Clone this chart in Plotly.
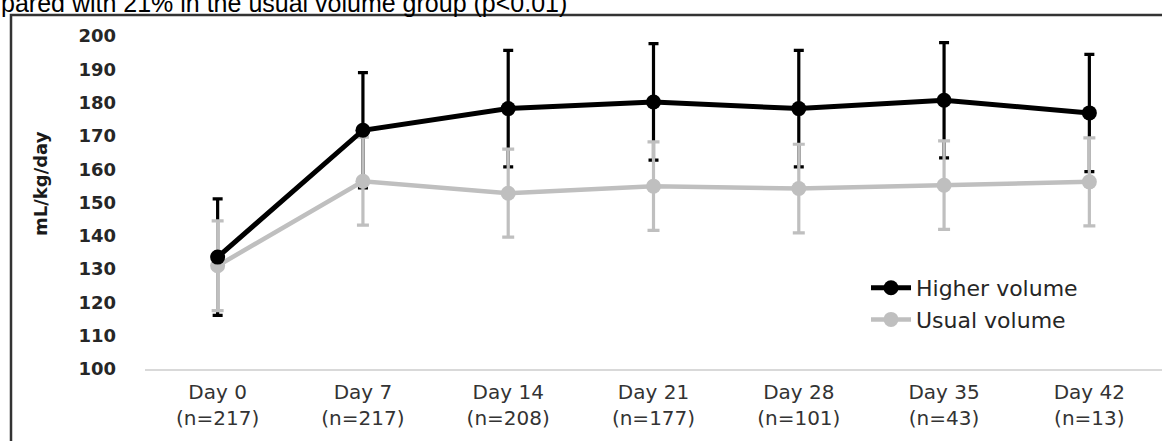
import plotly.graph_objects as go

# ---- data ----
days = ["Day 0", "Day 7", "Day 14", "Day 21", "Day 28", "Day 35", "Day 42"]
n_counts = [217, 217, 208, 177, 101, 43, 13]
higher_mean = [133.6, 171.7, 178.2, 180.2, 178.2, 180.7, 176.9]
higher_sd = [17.5, 17.3, 17.5, 17.5, 17.5, 17.3, 17.6]
usual_mean = [131.0, 156.4, 152.8, 154.9, 154.2, 155.2, 156.2]
usual_sd = [13.5, 13.2, 13.2, 13.3, 13.3, 13.3, 13.2]
y_ticks = [100, 110, 120, 130, 140, 150, 160, 170, 180, 190, 200]
caption = "pared with 21% in the usual volume group (p<0.01)"
y_title = "mL/kg/day"

categories = [f"{d}<br>(n={n})" for d, n in zip(days, n_counts)]

BLACK = "#000000"
GRAY = "#bfbfbf"

W, H = 1162, 441
ML, MR, MT, MB = 145, 0, 36, 72
PW, PH = W - ML - MR, H - MT - MB


def px_x(x):
    return (x - ML) / PW


def px_y(y):
    return (H - MB - y) / PH


fig = go.Figure()

# error bars (black first, gray over it)
fig.add_trace(go.Scatter(
    x=categories, y=higher_mean, mode="markers",
    marker=dict(size=1, opacity=0, color=BLACK),
    error_y=dict(type="data", array=higher_sd, color=BLACK, thickness=3.2, width=5),
    showlegend=False, hoverinfo="skip"))
fig.add_trace(go.Scatter(
    x=categories, y=usual_mean, mode="markers",
    marker=dict(size=1, opacity=0, color=GRAY),
    error_y=dict(type="data", array=usual_sd, color=GRAY, thickness=3.2, width=6),
    showlegend=False, hoverinfo="skip"))

# lines + markers
fig.add_trace(go.Scatter(
    x=categories, y=usual_mean, mode="lines+markers", name="Usual volume",
    line=dict(color=GRAY, width=4.5), marker=dict(color=GRAY, size=15),
    legendrank=2))
fig.add_trace(go.Scatter(
    x=categories, y=higher_mean, mode="lines+markers", name="Higher volume",
    line=dict(color=BLACK, width=5), marker=dict(color=BLACK, size=15),
    legendrank=1))

fig.update_layout(
    width=W, height=H,
    margin=dict(l=ML, r=MR, t=MT, b=MB, pad=0),
    paper_bgcolor="white", plot_bgcolor="white",
    showlegend=True,
    legend=dict(
        x=px_x(866), y=px_y(267), xanchor="left", yanchor="top",
        font=dict(family="DejaVu Sans", size=22, color="#262626"),
        bgcolor="rgba(0,0,0,0)", itemwidth=40, tracegroupgap=0),
    xaxis=dict(
        type="category", range=[-0.5, 6.5],
        showgrid=False, zeroline=False,
        showline=True, linecolor="#d9d9d9", linewidth=1.5,
        ticks="", ticklabelstandoff=4,
        tickfont=dict(family="DejaVu Sans", size=20, color="#333333")),
    yaxis=dict(
        range=[100, 200], tickvals=y_ticks,
        showgrid=False, zeroline=False, showline=False, ticks="",
        ticklabelstandoff=28,
        tickfont=dict(family="DejaVu Sans", size=18, color="#262626", weight="bold")),
    annotations=[
        dict(text=y_title, xref="paper", yref="paper", x=px_x(40), y=px_y(184),
             xanchor="center", yanchor="middle", textangle=-90, showarrow=False,
             font=dict(family="DejaVu Sans", size=18, color="#1a1a1a", weight="bold")),
        dict(text=caption, xref="paper", yref="paper", x=px_x(-1), y=px_y(19),
             xanchor="left", yanchor="bottom", showarrow=False,
             font=dict(family="Liberation Sans", size=25, color="#000000")),
    ],
    shapes=[
        dict(type="rect", xref="paper", yref="paper",
             x0=px_x(11), y0=px_y(470), x1=px_x(1175), y1=px_y(15),
             line=dict(color="#333333", width=2.5), fillcolor="rgba(0,0,0,0)", layer="above"),
    ],
)

fig.write_html(
    "out.html",
    config={"displayModeBar": False},
    post_script="document.body.style.margin='0';document.body.style.padding='0';",
)
